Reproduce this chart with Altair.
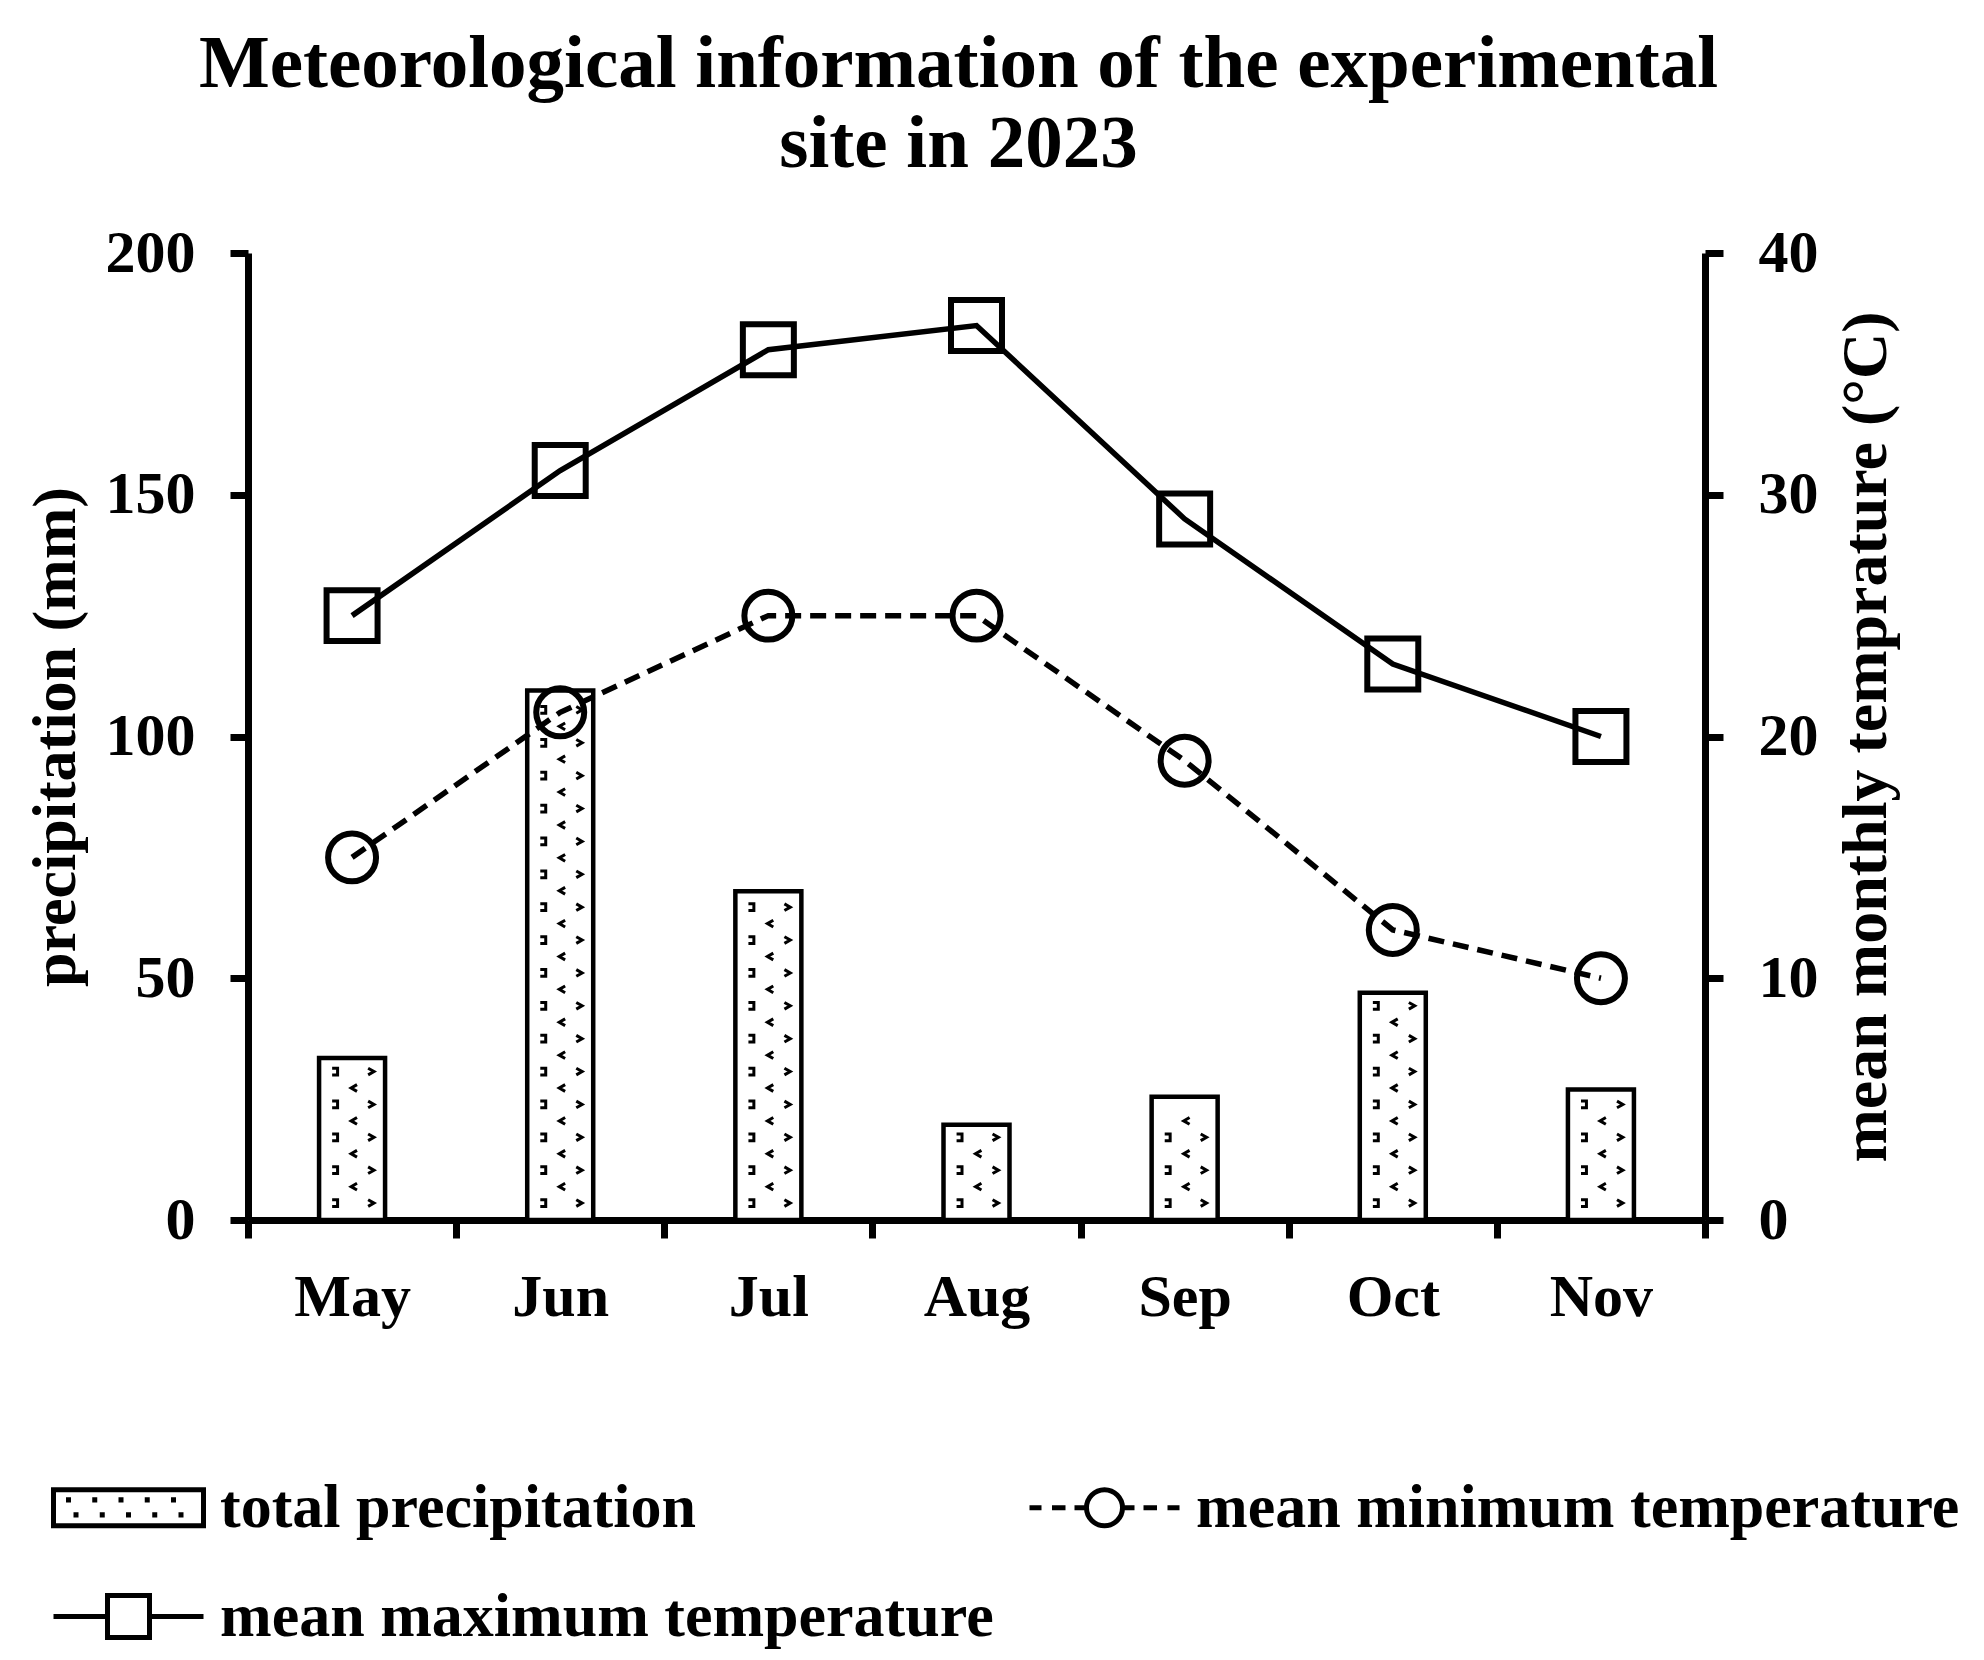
import altair as alt
import pandas as pd

months = ["May", "Jun", "Jul", "Aug", "Sep", "Oct", "Nov"]
precipitation = [33.5, 109.5, 68.0, 19.7, 25.5, 47.0, 27.0]
max_temp = [25, 31, 36, 37, 29, 23, 20]
min_temp = [15, 21, 25, 25, 19, 12, 10]
series_names = ["total precipitation", "mean minimum temperature", "mean maximum temperature"]
title_lines = ["Meteorological information of the experimental", "site in 2023"]
left_ticks = [0, 50, 100, 150, 200]
right_ticks = [0, 10, 20, 30, 40]

df = pd.DataFrame({"month": months, "precip": precipitation, "tmax": max_temp, "tmin": min_temp})

FONT = "Liberation Serif"
W, H = 1457, 967

# legend symbol paths (unit box, scaled by symbolSize)
marks = "".join(f"M{x:.2f},-0.14v0.07M{x + 0.1:.2f},0.06v0.07" for x in [-0.8, -0.45, -0.1, 0.25, 0.6])
rect_path = "M-1,-0.24H1V0.24H-1Z" + marks
circ_path = ("M-1,0H-0.84M-0.7,0H-0.52M-0.4,0H-0.24"
             "M-0.24,0A0.24,0.24,0,1,0,0.24,0A0.24,0.24,0,1,0,-0.24,0"
             "M0.24,0H0.4M0.52,0H0.7M0.84,0H1")
sq_path = "M-1,0H-0.28M0.28,0H1M-0.28,-0.28H0.28V0.28H-0.28Z"

# small pattern glyphs inside bars
glyph_right = "M-0.7,-0.8L0.7,0L-0.7,0.8"
glyph_left = "M0.7,-0.8L-0.7,0L0.7,0.8"
glyph_cup = "M-0.7,-0.8H0.6V0.8H-0.7"

axis_common = dict(domainColor="black", domainWidth=7, tickColor="black", tickWidth=7, tickSize=18,
                   labelFont=FONT, labelFontSize=60, labelFontWeight="bold", labelColor="black",
                   titleFont=FONT, titleFontWeight="bold", titleColor="black",
                   grid=False)

x_enc = alt.X("month:N", sort=months, scale=alt.Scale(paddingInner=0, paddingOuter=0),
              axis=alt.Axis(title=None, tickBand="extent", labelAngle=0, labelPadding=30, **axis_common))

y_left_scale = alt.Scale(domain=[0, 200], nice=False)
y_left_axis = alt.Axis(values=left_ticks, title="precipitation (mm)", labelPadding=35, titlePadding=18,
                       titleFontSize=62, **axis_common)

base = alt.Chart(df)

bars = base.mark_bar(size=66, fill="white", stroke="black", strokeWidth=4.5).encode(
    x=x_enc, y=alt.Y("precip:Q", scale=y_left_scale, axis=y_left_axis))

pattern_base = base.transform_calculate(k="sequence(0, ceil(datum.precip / 6.8))").transform_flatten(["k"])


def pattern(offset_px, phase, shape):
    return (pattern_base
            .transform_calculate(py=f"datum.k * 6.8 + {phase}")
            .transform_filter("datum.py < datum.precip - 2")
            .mark_point(shape=shape, size=70, filled=False, color="black", strokeWidth=3,
                        xOffset=offset_px, opacity=1)
            .encode(x=x_enc, y=alt.Y("py:Q", scale=y_left_scale, axis=y_left_axis)))


left = alt.layer(bars,
                 pattern(-17, 3.5, glyph_cup),
                 pattern(2, 6.9, glyph_left),
                 pattern(19, 3.5, glyph_right))

y_right_scale = alt.Scale(domain=[0, 40], nice=False)
y_right_axis = alt.Axis(values=right_ticks, orient="right", title="mean monthly temprature (°C)",
                        titleAngle=270, titleBaseline="top", labelPadding=35, titlePadding=16,
                        titleFontSize=64, **axis_common)

line_max = base.mark_line(color="black", strokeWidth=5.5).encode(
    x=x_enc, y=alt.Y("tmax:Q", scale=y_right_scale, axis=y_right_axis))
line_min = base.mark_line(color="black", strokeWidth=5.5, strokeDash=[16, 9]).encode(
    x=x_enc, y=alt.Y("tmin:Q", scale=y_right_scale, axis=y_right_axis))
pts_max = base.mark_point(shape="square", size=2600, filled=False, color="black", strokeWidth=6,
                          opacity=1).encode(x=x_enc, y=alt.Y("tmax:Q", scale=y_right_scale, axis=y_right_axis))
pts_min = base.mark_point(shape="circle", size=2300, filled=False, color="black", strokeWidth=6,
                          opacity=1).encode(x=x_enc, y=alt.Y("tmin:Q", scale=y_right_scale, axis=y_right_axis))

legend_layer = (base.transform_calculate(series="'none'")
                .transform_filter("false")
                .mark_point(filled=False, color="black", strokeWidth=4, opacity=1)
                .encode(x=x_enc,
                        y=alt.Y("tmax:Q", scale=y_right_scale, axis=y_right_axis),
                        shape=alt.Shape("series:N",
                                        scale=alt.Scale(domain=series_names,
                                                        range=[rect_path, circ_path, sq_path]),
                                        legend=alt.Legend(title=None, orient="none", legendX=-197,
                                                          legendY=1177, columns=2, direction="horizontal",
                                                          padding=0,
                                                          symbolSize=22500, symbolStrokeWidth=5,
                                                          symbolStrokeColor="black",
                                                          symbolFillColor="white", symbolOpacity=1,
                                                          labelFont=FONT, labelFontSize=62,
                                                          labelFontWeight="bold", labelColor="black",
                                                          labelOffset=14, labelLimit=2000,
                                                          columnPadding=25, rowPadding=-62))))

right = alt.layer(line_max, line_min, pts_max, pts_min, legend_layer)

chart = (alt.layer(left, right)
         .resolve_scale(y="independent")
         .properties(width=W, height=H,
                     title=alt.TitleParams(text=title_lines, font=FONT, fontSize=75, fontWeight="bold",
                                           color="black", anchor="middle", frame="group", offset=40,
                                           lineHeight=80, dx=-18),
                     autosize=alt.AutoSizeParams(type="none"),
                     padding={"left": 240, "top": 245, "right": 265, "bottom": 430})
         .configure_view(stroke=None))

chart.save("out.html", embed_options={"renderer": "svg", "actions": False})
